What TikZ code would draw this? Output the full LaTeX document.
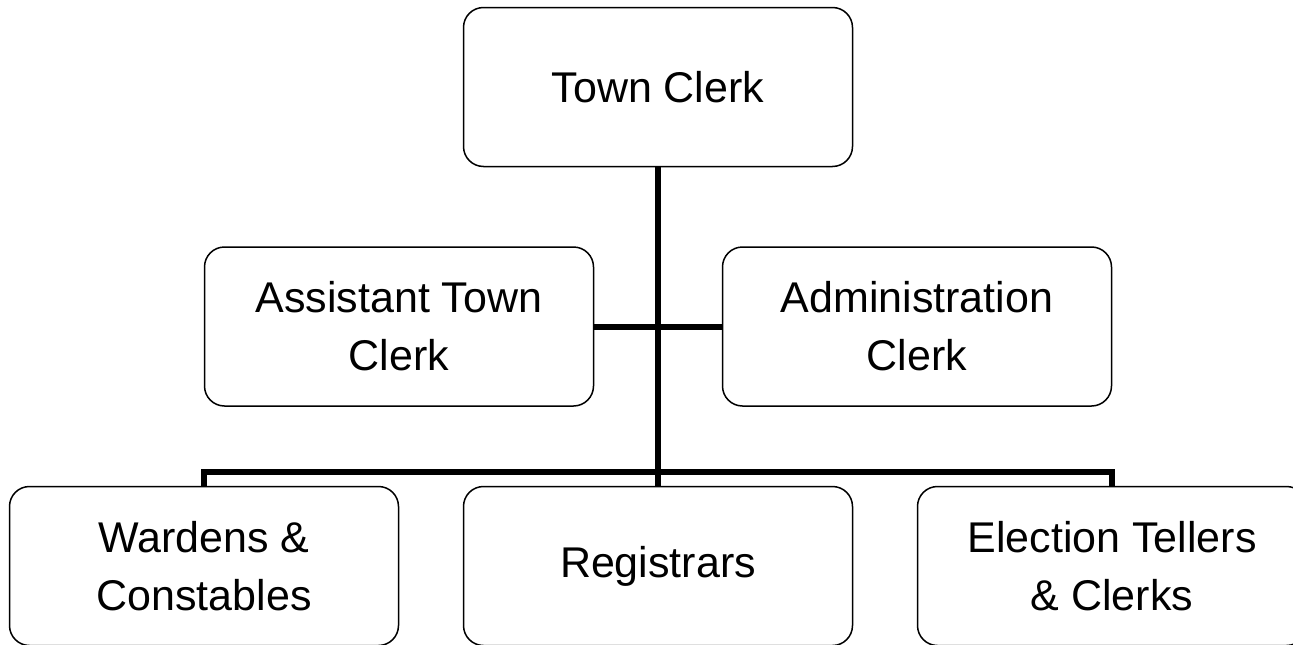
\documentclass[tikz,border=0pt]{standalone}
\usepackage{fontspec}
\setmainfont{Liberation Sans}
\usepackage{tikz}
\usetikzlibrary{positioning, calc}

\begin{document}
\begin{tikzpicture}[x=1pt, y=-1pt,
		post/.style={draw, line width=1.5pt, rounded corners=20pt, align=center,
			minimum width=389pt, minimum height=159pt, inner sep=0pt,
			font=\fontsize{43}{58}\selectfont},
		link/.style={line width=6pt, line join=miter}]
		\useasboundingbox (0,0) rectangle (1293,645);
		\node[post] (town) at (658,87) {Town Clerk};
		\node[post] (asst) at (399,326.5) {Assistant Town\\Clerk};
		\node[post] (admin) at (917,326.5) {Administration\\Clerk};
		\node[post] (wardens) at (204,566) {Wardens \&\\Constables};
		\node[post] (reg) at (658,566) {Registrars};
		\node[post] (elect) at (1112,566) {Election Tellers\\\& Clerks};
		\coordinate (bus) at (658,472);
		
		\draw[link] (town.south) -- (reg.north);
		\draw[link] (asst.east) -- (admin.west);
		\draw[link] (wardens.north) |- (bus) -| (elect.north);
	\end{tikzpicture}
\end{document}
